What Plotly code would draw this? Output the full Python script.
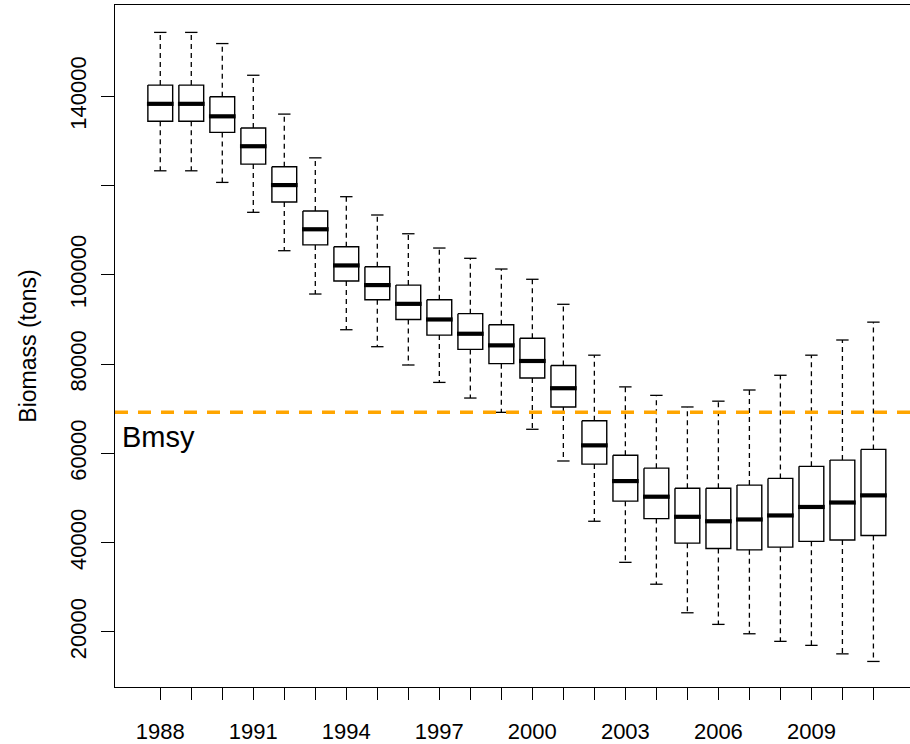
import plotly.graph_objects as go

years = list(range(1988, 2012))
whisker_high = [154300, 154300, 151800, 144700, 136000, 126200, 117500, 113400,
                109200, 106000, 103700, 101300, 99000, 93400, 82000, 74900,
                73000, 70400, 71700, 74200, 77500, 82000, 85400, 89400]
q3 = [142500, 142500, 139900, 132900, 124200, 114300, 106300, 101800,
      97700, 94400, 91300, 88800, 85800, 79700, 67300, 59600,
      56700, 52200, 52200, 52900, 54400, 57100, 58500, 60900]
median = [138300, 138300, 135500, 128800, 120100, 110200, 102100, 97700,
          93500, 90000, 86800, 84200, 80700, 74600, 61800, 53800,
          50300, 45800, 44800, 45200, 46100, 48000, 49000, 50600]
q1 = [134400, 134400, 131900, 124800, 116300, 106700, 98600, 94400,
      90000, 86500, 83300, 80100, 76900, 70400, 57600, 49300,
      45400, 39900, 38700, 38400, 39000, 40300, 40600, 41600]
whisker_low = [123300, 123300, 120700, 114000, 105400, 95700, 87700, 83900,
               79800, 75900, 72400, 69200, 65400, 58300, 44800, 35600,
               30700, 24300, 21700, 19600, 17900, 17000, 15100, 13400]
BMSY = 69200
y_ticks = [20000, 40000, 60000, 80000, 100000, 120000, 140000]
y_ticklabels = ["20000", "40000", "60000", "80000", "100000", "", "140000"]
labeled_years = [1988, 1991, 1994, 1997, 2000, 2003, 2006, 2009]

pos = list(range(1, len(years) + 1))
HALF_BOX = 0.4
HALF_STAPLE = 0.2
HALF_MED = 0.43

wx, wy, sx, sy, bx, by, mx, my = [], [], [], [], [], [], [], []
for p, hi, a, m, b, lo in zip(pos, whisker_high, q3, median, q1, whisker_low):
    wx += [p, p, None, p, p, None]
    wy += [a, hi, None, b, lo, None]
    sx += [p - HALF_STAPLE, p + HALF_STAPLE, None, p - HALF_STAPLE, p + HALF_STAPLE, None]
    sy += [hi, hi, None, lo, lo, None]
    bx += [p - HALF_BOX, p + HALF_BOX, p + HALF_BOX, p - HALF_BOX, p - HALF_BOX, None]
    by += [a, a, b, b, a, None]
    mx += [p - HALF_MED, p + HALF_MED, None]
    my += [m, m, None]

fig = go.Figure()
fig.add_trace(go.Scatter(x=wx, y=wy, mode="lines", hoverinfo="skip",
                         line=dict(color="black", width=1.3, dash="5px,4px")))
fig.add_trace(go.Scatter(x=sx, y=sy, mode="lines", hoverinfo="skip",
                         line=dict(color="black", width=1.3)))
fig.add_trace(go.Scatter(x=bx, y=by, mode="lines", hoverinfo="skip",
                         line=dict(color="black", width=1.4)))
fig.add_trace(go.Scatter(x=mx, y=my, mode="lines", hoverinfo="skip",
                         line=dict(color="black", width=4.2)))

fig.add_shape(type="line", xref="paper", x0=0, x1=1, yref="y", y0=BMSY, y1=BMSY,
              line=dict(color="#FFA500", width=3.5, dash="13px,10px"))
fig.add_annotation(text="Bmsy", xref="paper", x=0, xanchor="left", xshift=5,
                   yref="y", y=BMSY, yanchor="top", yshift=-7, showarrow=False,
                   font=dict(size=29, color="black"))

fig.update_layout(
    width=910, height=744,
    margin=dict(l=115, r=0, t=5, b=57),
    paper_bgcolor="white", plot_bgcolor="white",
    showlegend=False,
    font=dict(family="Liberation Sans, Arial, sans-serif", size=22, color="black"),
    xaxis=dict(range=[-0.46, 25.18], tickvals=pos, automargin=False,
               ticktext=[str(y) if y in labeled_years else "" for y in years],
               ticks="outside", ticklen=12, tickwidth=1.3, tickcolor="black",
               showline=True, mirror=True, linecolor="black", linewidth=1.3,
               showgrid=False, zeroline=False, ticklabelstandoff=12),
    yaxis=dict(range=[7676, 160437], tickvals=y_ticks, ticktext=y_ticklabels,
               automargin=False,
               tickangle=-90, ticks="outside", ticklen=13, tickwidth=1.3,
               tickcolor="black", showline=True, mirror=False, linecolor="black",
               linewidth=1.3, showgrid=False, zeroline=False, ticklabelstandoff=6,
               title=dict(text="Biomass (tons)", standoff=22,
                          font=dict(size=23, family="Liberation Sans, Arial, sans-serif"))),
)

fig.write_html("out.html", config={"displayModeBar": False},
               post_script="document.body.style.margin='0px';document.body.style.overflow='hidden';")
